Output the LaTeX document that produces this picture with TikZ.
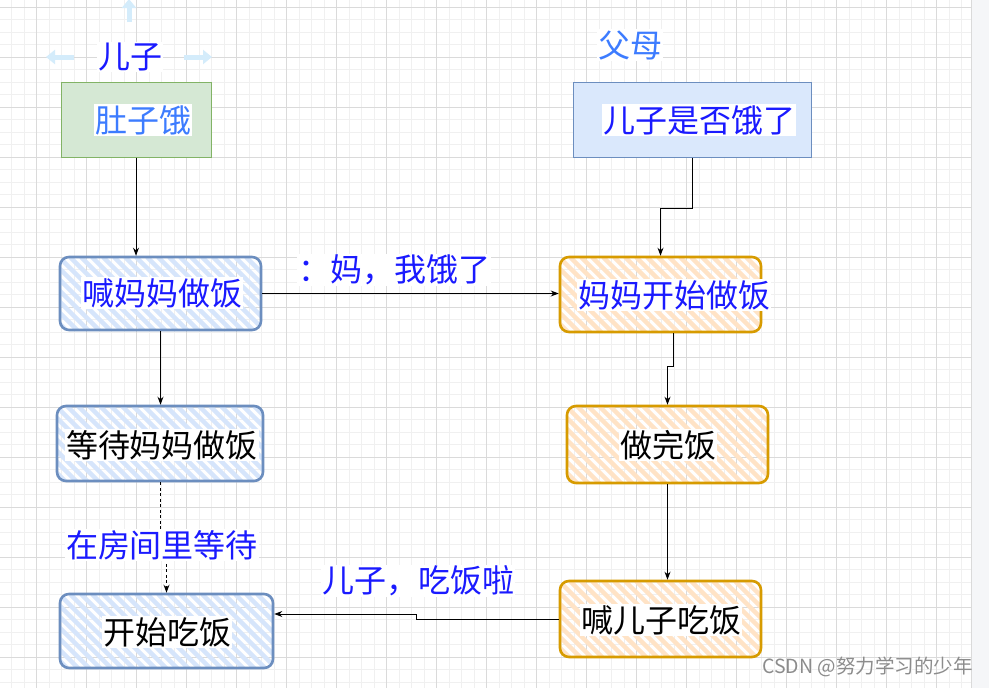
\documentclass[tikz,border=0pt]{standalone}
\usepackage{fontspec}
\setmainfont{Noto Sans CJK SC}
\usetikzlibrary{arrows.meta}
\definecolor{tblue}{HTML}{1A1AFF}
\definecolor{lblue}{HTML}{3D7CFF}
\definecolor{gfill}{HTML}{D5E8D4}
\definecolor{gline}{HTML}{82B366}
\definecolor{bfill}{HTML}{DAE8FC}
\definecolor{bline}{HTML}{6C8EBF}
\definecolor{bhatch}{HTML}{D6E5FB}
\definecolor{oline}{HTML}{D79B00}
\definecolor{ohatch}{HTML}{FFE3C6}
\definecolor{gridminor}{HTML}{F0F0F0}
\definecolor{gridmajor}{HTML}{DADADA}
\definecolor{panel}{HTML}{F5F6F8}
\definecolor{uiarrow}{HTML}{D4ECFB}
\begin{document}
\begin{tikzpicture}[x=1pt,y=-1pt,
  big/.style={font=\fontsize{32pt}{36pt}\selectfont},
  txt/.style={big,fill=white,inner sep=1pt},
  plainbox/.style={draw,line width=1pt,inner sep=0pt},
  hatch/.style={path picture={
    \foreach \k in {-100,-89,...,230}
      \draw[#1,line width=4.3pt] ([xshift=\k pt]path picture bounding box.north west) -- ++(110,110);}},
  bluesk/.style={draw=bline,line width=2.6pt,rounded corners=9pt,inner sep=0pt,hatch=bhatch},
  orangesk/.style={draw=oline,line width=2.6pt,rounded corners=9pt,inner sep=0pt,hatch=ohatch},
  arr/.style={draw=black,line width=0.9pt,-{Stealth[length=8pt,width=6pt]}},
  uiarr/.style={draw=uiarrow,line width=5pt,-{Triangle[length=9pt,width=14pt]}}
]
\useasboundingbox (0,0) rectangle (989,688);
\fill[white] (0,0) rectangle (989,688);
\begin{scope}
\clip (0,0) rectangle (971,688);
\foreach \i in {0,...,78} \draw[gridminor,line width=0.8pt] (11.7+12.5*\i,0) -- ++(0,688);
\foreach \i in {0,...,55} \draw[gridminor,line width=0.8pt] (0,7.3+12.5*\i) -- ++(989,0);
\foreach \i in {0,...,19} \draw[gridmajor,line width=0.8pt] (36.7+50*\i,0) -- ++(0,688);
\foreach \i in {0,...,13} \draw[gridmajor,line width=0.8pt] (0,7.3+50*\i) -- ++(989,0);
\end{scope}
\fill[panel] (971,0) rectangle (989,688);
\draw[gridmajor,line width=1pt] (971,0) -- (971,688);

% UI hover arrows
\coordinate (uil0) at (74,57); \coordinate (uil1) at (46,57);
\coordinate (uir0) at (184,57); \coordinate (uir1) at (212,57);
\coordinate (uit0) at (129,22); \coordinate (uit1) at (129,-1);
\draw[uiarr] (uil0) -- (uil1);
\draw[uiarr] (uir0) -- (uir1);
\draw[uiarr] (uit0) -- (uit1);

% titles
\node[txt,text=tblue] (son) at (130,57) {儿子};
\node[txt,text=lblue] (par) at (630,45) {父母};

% boxes
\node[plainbox,draw=gline,fill=gfill,minimum width=150pt,minimum height=75pt] (g) at (136,119.5) {};
\node[plainbox,draw=bline,fill=bfill,minimum width=238pt,minimum height=75pt] (pb) at (692,119.5) {};
\node[bluesk,minimum width=201pt,minimum height=73pt] (s1) at (160.5,293.5) {};
\node[orangesk,minimum width=201pt,minimum height=75pt] (m1) at (660.5,294.5) {};
\node[bluesk,minimum width=206pt,minimum height=75pt] (s2) at (160,443.5) {};
\node[orangesk,minimum width=201pt,minimum height=77pt] (m2) at (667.5,444.5) {};
\node[bluesk,minimum width=213pt,minimum height=74pt] (s3) at (166.5,631) {};
\node[orangesk,minimum width=201pt,minimum height=76pt] (m3) at (660.5,619) {};

% box texts
\node[txt,text=lblue] (tg) at (143,120) {肚子饿};
\node[txt,text=tblue] (tpb) at (699,120) {儿子是否饿了};
\node[txt,text=tblue] (ts1) at (162,293) {喊妈妈做饭};
\node[txt,text=tblue] (tm1) at (674,295) {妈妈开始做饭};
\node[txt,text=black] (ts2) at (162,445) {等待妈妈做饭};
\node[txt,text=black] (tm2) at (668,445) {做完饭};
\node[txt,text=black] (ts3) at (167,632) {开始吃饭};
\node[txt,text=black] (tm3) at (661,620) {喊儿子吃饭};

% connectors
\draw[arr] (g.south) -- (g.south |- s1.north);
\draw[arr] (pb.south) -- ++(0,51) -| (m1.north);
\draw[arr] (s1.east) -- (s1.east -| m1.west);
\draw[arr] ([xshift=12.5pt]m1.south) -- ++(0,33) -| (m2.north);
\draw[arr] (s1.south) -- (s1.south |- s2.north);
\draw[arr] (m2.south) -- (m2.south |- m3.north);
\draw[arr,dash pattern=on 3pt off 2.5pt] (s2.south) -- (s2.south |- 0,545) -- (s3.north |- 0,545) -- (s3.north);
\draw[arr] (m3.west) -- ++(-142,0) |- ([yshift=17pt]s3.east);

% edge labels
\node[txt,text=tblue] (l1) at (394,270) {：妈，我饿了};
\node[txt,text=tblue] (l2) at (162,545) {在房间里等待};
\node[txt,text=tblue] (l3) at (418,581) {儿子，吃饭啦};

% watermark
\node[anchor=east,text=black!45,font=\fontsize{19.5pt}{22pt}\selectfont,inner sep=0pt] (wm) at (973,667) {CSDN @努力学习的少年};
\end{tikzpicture}
\end{document}
